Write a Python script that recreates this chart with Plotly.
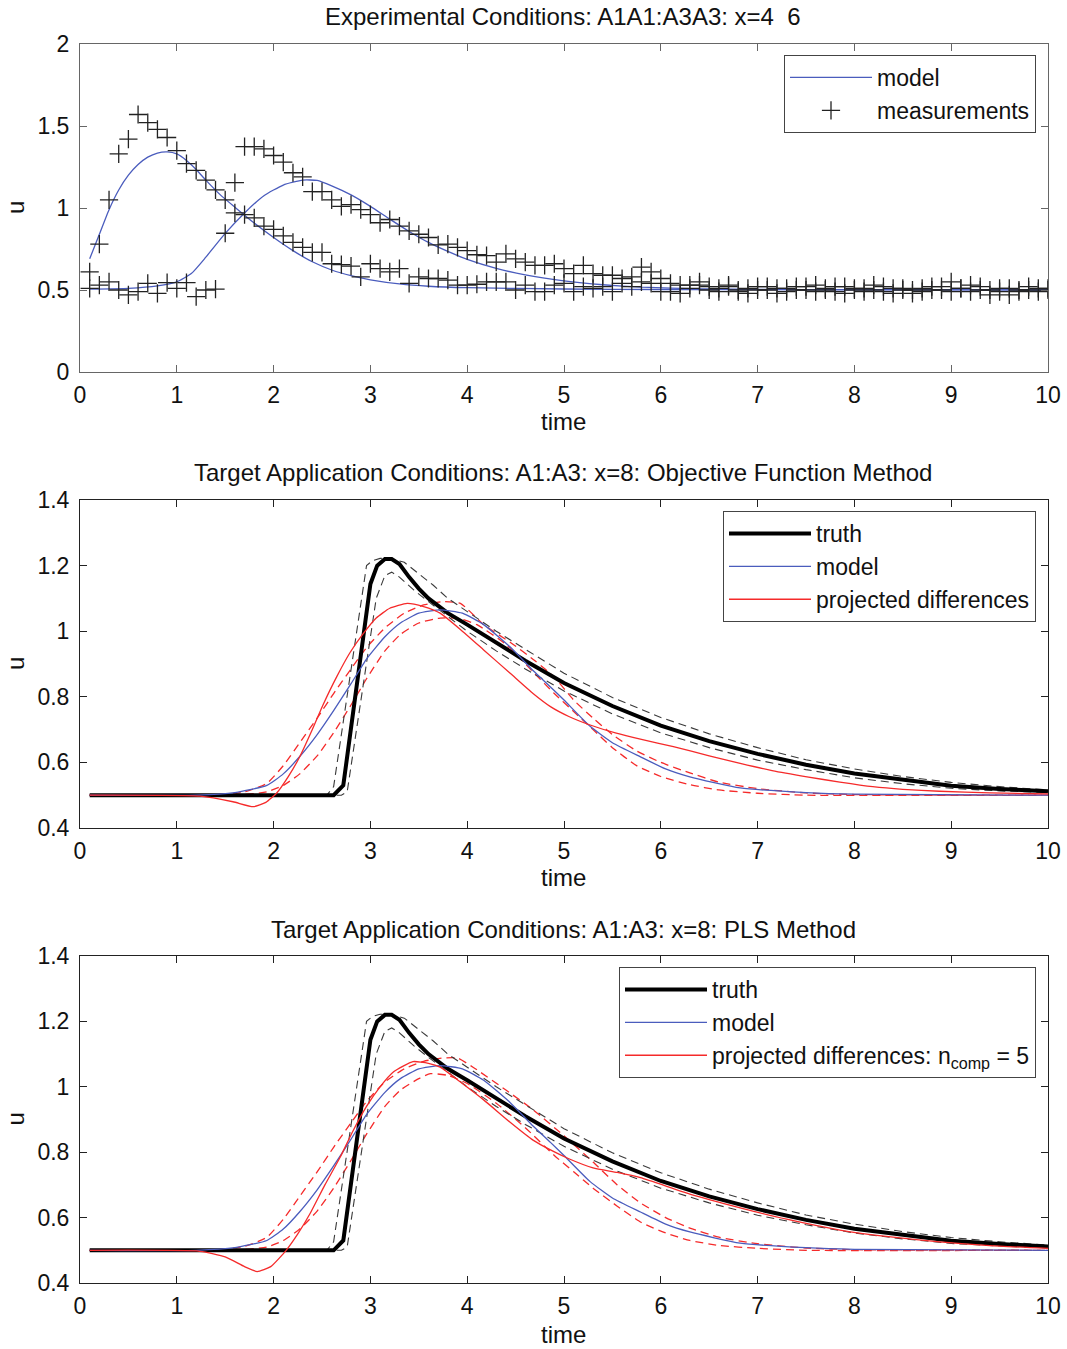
import plotly.graph_objects as go

# ---------------- data ----------------
# top panel: measurements sampled every 0.1 time units
meas_t = [round(0.1 * i, 1) for i in range(1, 101)]
meas_x4 = [0.61, 0.78, 1.05, 1.33, 1.42, 1.57, 1.52, 1.48, 1.43, 1.35,
           1.27, 1.23, 1.17, 1.11, 1.05, 0.97, 0.96, 0.94, 0.89, 0.87,
           0.83, 0.79, 0.76, 0.73, 0.73, 0.66, 0.655, 0.645, 0.58, 0.66,
           0.63, 0.61, 0.63, 0.54, 0.58, 0.57, 0.57, 0.56, 0.53, 0.53,
           0.535, 0.55, 0.55, 0.55, 0.50, 0.53, 0.49, 0.49, 0.53, 0.54,
           0.49, 0.52, 0.51, 0.52, 0.49, 0.54, 0.52, 0.55, 0.54, 0.49,
           0.49, 0.48, 0.51, 0.53, 0.50, 0.51, 0.53, 0.49, 0.51, 0.52,
           0.50, 0.48, 0.51, 0.52, 0.50, 0.53, 0.51, 0.49, 0.52, 0.50,
           0.51, 0.53, 0.49, 0.51, 0.50, 0.48, 0.51, 0.52, 0.50, 0.55,
           0.51, 0.49, 0.52, 0.50, 0.51, 0.47, 0.50, 0.52, 0.49, 0.51]
meas_x6 = [0.51, 0.53, 0.55, 0.50, 0.47, 0.49, 0.54, 0.48, 0.545, 0.51,
           0.545, 0.46, 0.50, 0.505, 0.846, 1.155, 1.374, 1.374, 1.36, 1.32,
           1.28, 1.215, 1.19, 1.10, 1.10, 1.05, 1.01, 1.02, 0.99, 0.96,
           0.91, 0.93, 0.89, 0.86, 0.84, 0.82, 0.775, 0.78, 0.76, 0.74,
           0.715, 0.71, 0.67, 0.72, 0.69, 0.67, 0.65, 0.65, 0.66, 0.63,
           0.60, 0.65, 0.60, 0.59, 0.59, 0.57, 0.58, 0.64, 0.61, 0.57,
           0.54, 0.53, 0.53, 0.55, 0.52, 0.49, 0.52, 0.50, 0.48, 0.50,
           0.52, 0.51, 0.49, 0.50, 0.52, 0.49, 0.50, 0.52, 0.48, 0.51,
           0.49, 0.50, 0.52, 0.48, 0.51, 0.50, 0.49, 0.50, 0.52, 0.49,
           0.51, 0.53, 0.50, 0.47, 0.49, 0.51, 0.49, 0.50, 0.51, 0.50]

model_x4_t = [0.1, 0.2, 0.3, 0.4, 0.5, 0.6, 0.7, 0.8, 0.9, 1.0, 1.1, 1.2, 1.3,
              1.45, 1.6, 1.8, 2.0, 2.2, 2.4, 2.6, 2.8, 3.0, 3.3, 3.6, 4.0, 5.0,
              6.0, 10.0]
model_x4_u = [0.69, 0.84, 0.99, 1.11, 1.2, 1.265, 1.31, 1.335, 1.342, 1.33,
              1.29, 1.235, 1.17, 1.08, 1.005, 0.908, 0.82, 0.74, 0.672, 0.622,
              0.587, 0.562, 0.537, 0.523, 0.514, 0.506, 0.503, 0.5]
model_x6_t = [0.1, 0.5, 0.8, 1.0, 1.15, 1.3, 1.5, 1.7, 1.9, 2.1, 2.3, 2.45,
              2.6, 2.8, 3.0, 3.2, 3.4, 3.6, 3.8, 4.0, 4.3, 4.6, 5.0, 5.4, 5.8,
              6.4, 7.5, 10.0]
model_x6_u = [0.505, 0.51, 0.525, 0.55, 0.6, 0.7, 0.845, 0.97, 1.075, 1.14,
              1.17, 1.168, 1.135, 1.08, 1.01, 0.932, 0.857, 0.79, 0.735, 0.687,
              0.632, 0.592, 0.556, 0.532, 0.517, 0.507, 0.502, 0.5]

# middle / bottom panels: truth and its dashed bounds
truth_t = [0.1, 2.62, 2.72, 2.8, 2.9, 3.0, 3.07, 3.15, 3.22, 3.3, 3.4, 3.5,
           3.6, 3.8, 4.0, 4.3, 4.6, 5.0, 5.5, 6.0, 6.5, 7.0, 7.5, 8.0, 8.5,
           9.0, 9.5, 10.0]
truth_u = [0.5, 0.5, 0.53, 0.705, 0.924, 1.144, 1.2, 1.22, 1.22, 1.205, 1.165,
           1.13, 1.10, 1.055, 1.02, 0.965, 0.91, 0.842, 0.772, 0.712, 0.665,
           0.626, 0.593, 0.566, 0.546, 0.529, 0.519, 0.512]
truth_hi_t = [0.1, 2.55, 2.62, 2.96, 3.02, 3.1, 3.2, 3.35, 3.5, 3.65, 3.8,
              4.0, 4.3, 4.6, 5.0, 5.5, 6.0, 6.5, 7.0, 7.5, 8.0, 8.5, 9.0,
              9.5, 10.0]
truth_hi_u = [0.5, 0.5, 0.526, 1.20, 1.215, 1.222, 1.222, 1.21, 1.175, 1.14,
              1.10, 1.06, 1.0, 0.945, 0.872, 0.798, 0.737, 0.687, 0.645, 0.608,
              0.58, 0.557, 0.539, 0.526, 0.516]
truth_lo_t = [0.1, 2.7, 2.76, 3.06, 3.15, 3.22, 3.3, 3.45, 3.6, 3.8, 4.0, 4.3,
              4.6, 5.0, 5.5, 6.0, 6.5, 7.0, 7.5, 8.0, 8.5, 9.0, 9.5, 10.0]
truth_lo_u = [0.5, 0.5, 0.51, 1.10, 1.17, 1.18, 1.165, 1.125, 1.09, 1.045, 1.0,
              0.94, 0.885, 0.818, 0.748, 0.69, 0.645, 0.607, 0.578, 0.553,
              0.535, 0.521, 0.513, 0.508]

model_t = [0.1, 1.2, 1.6, 1.93, 2.1, 2.27, 2.45, 2.62, 2.8, 2.96, 3.15, 3.31,
           3.5, 3.72, 3.95, 4.17, 4.45, 4.68, 4.86, 5.0, 5.27, 5.5, 5.79, 6.05,
           6.3, 6.82, 7.5, 8.0, 10.0]
model_u = [0.5, 0.5, 0.508, 0.53, 0.565, 0.618, 0.685, 0.758, 0.84, 0.915,
           0.983, 1.025, 1.055, 1.065, 1.055, 1.02, 0.95, 0.88, 0.83, 0.79,
           0.71, 0.66, 0.617, 0.58, 0.556, 0.522, 0.508, 0.503, 0.5]

# objective function method: projected differences and bounds
ofm_t = [0.1, 1.24, 1.58, 1.79, 1.92, 2.03, 2.15, 2.27, 2.4, 2.51, 2.65, 2.79,
         2.92, 3.06, 3.2, 3.38, 3.55, 3.72, 3.95, 4.17, 4.45, 4.68, 4.86, 5.05,
         5.27, 5.54, 5.8, 6.13, 6.5, 6.82, 7.15, 7.51, 7.85, 8.19, 8.5, 8.88,
         9.4, 10.0]
ofm_u = [0.5, 0.497, 0.48, 0.465, 0.478, 0.506, 0.556, 0.617, 0.70, 0.775,
         0.86, 0.935, 0.99, 1.04, 1.07, 1.085, 1.075, 1.055, 1.0, 0.943, 0.87,
         0.81, 0.77, 0.74, 0.714, 0.689, 0.67, 0.648, 0.62, 0.597, 0.575,
         0.556, 0.54, 0.526, 0.518, 0.512, 0.507, 0.504]
ofm_hi_t = [0.1, 1.3, 1.7, 1.93, 2.1, 2.27, 2.45, 2.62, 2.8, 2.96, 3.15, 3.35,
            3.55, 3.75, 3.93, 4.17, 4.45, 4.7, 4.9, 5.1, 5.3, 5.5, 5.75, 6.0,
            6.3, 6.6, 7.0, 7.5, 8.0, 10.0]
ofm_hi_u = [0.5, 0.5, 0.51, 0.536, 0.59, 0.66, 0.735, 0.81, 0.885, 0.95, 1.01,
            1.055, 1.08, 1.09, 1.085, 1.02, 0.965, 0.91, 0.86, 0.79, 0.735,
            0.685, 0.635, 0.60, 0.568, 0.54, 0.52, 0.507, 0.502, 0.5]
ofm_lo_t = [0.1, 1.6, 1.93, 2.1, 2.27, 2.45, 2.62, 2.8, 2.96, 3.15, 3.31, 3.5,
            3.72, 3.9, 4.1, 4.4, 4.7, 4.9, 5.1, 5.3, 5.5, 5.75, 6.0, 6.3, 6.6,
            7.0, 7.5, 10.0]
ofm_lo_u = [0.5, 0.5, 0.51, 0.53, 0.565, 0.62, 0.69, 0.775, 0.855, 0.94, 0.99,
            1.025, 1.04, 1.04, 1.02, 0.96, 0.87, 0.81, 0.755, 0.70, 0.645,
            0.59, 0.557, 0.532, 0.516, 0.506, 0.5, 0.5]

# PLS method: projected differences and bounds
pls_t = [0.1, 1.24, 1.5, 1.7, 1.83, 1.97, 2.13, 2.25, 2.38, 2.53, 2.69, 2.82,
         2.96, 3.1, 3.24, 3.44, 3.6, 3.72, 3.95, 4.17, 4.45, 4.68, 4.86, 5.05,
         5.3, 5.55, 5.79, 6.3, 6.82, 7.3, 7.85, 8.4, 8.88, 9.4, 10.0]
pls_u = [0.5, 0.497, 0.48, 0.45, 0.435, 0.45, 0.5, 0.55, 0.614, 0.70, 0.786,
         0.865, 0.94, 1.0, 1.046, 1.077, 1.072, 1.06, 1.01, 0.96, 0.89, 0.837,
         0.807, 0.78, 0.752, 0.738, 0.722, 0.672, 0.63, 0.595, 0.562, 0.54,
         0.526, 0.514, 0.506]
pls_hi_t = [0.1, 1.3, 1.7, 1.93, 2.1, 2.27, 2.45, 2.62, 2.8, 2.96, 3.15, 3.35,
            3.55, 3.75, 3.9, 4.06, 4.4, 4.68, 5.0, 5.3, 5.55, 5.79, 6.05, 6.3,
            6.6, 7.0, 7.5, 8.0, 10.0]
pls_hi_u = [0.5, 0.5, 0.512, 0.54, 0.595, 0.665, 0.74, 0.815, 0.89, 0.955,
            1.015, 1.055, 1.078, 1.088, 1.088, 1.06, 0.99, 0.93, 0.85, 0.77,
            0.70, 0.645, 0.60, 0.568, 0.54, 0.52, 0.507, 0.502, 0.5]
pls_lo_t = [0.1, 1.6, 1.93, 2.1, 2.27, 2.45, 2.62, 2.8, 2.96, 3.15, 3.31, 3.5,
            3.62, 3.8, 4.0, 4.3, 4.6, 4.9, 5.1, 5.3, 5.55, 5.8, 6.05, 6.3, 6.6,
            7.0, 7.5, 10.0]
pls_lo_u = [0.5, 0.5, 0.51, 0.53, 0.565, 0.62, 0.69, 0.775, 0.855, 0.94, 0.99,
            1.025, 1.04, 1.035, 1.01, 0.95, 0.875, 0.79, 0.74, 0.69, 0.635,
            0.585, 0.553, 0.53, 0.515, 0.506, 0.5, 0.5]

titles = ["Experimental Conditions: A1A1:A3A3: x=4  6",
          "Target Application Conditions: A1:A3: x=8: Objective Function Method",
          "Target Application Conditions: A1:A3: x=8: PLS Method"]

# ---------------- style ----------------
W, H = 1067, 1349
ML, MR, MT, MB = 80, 19, 44, 66
BLUE = "#4a5cbd"
RED = "#f52a2a"
FONT = "Liberation Sans, Arial, Helvetica, sans-serif"
TXT = "#111111"
FS = 24


def py2paper(py):
    return (H - MB - py) / (H - MT - MB)


def px2paper(px):
    return (px - ML) / (W - ML - MR)


panels_px = [(44, 372), (500, 828), (956, 1283)]

fig = go.Figure()

# --- top panel ---
fig.add_trace(go.Scatter(x=model_x4_t, y=model_x4_u, mode="lines", name="model",
                         line=dict(color=BLUE, width=1.3, shape="spline", smoothing=0.5),
                         xaxis="x", yaxis="y", legend="legend"))
fig.add_trace(go.Scatter(x=model_x6_t, y=model_x6_u, mode="lines", showlegend=False,
                         line=dict(color=BLUE, width=1.3, shape="spline", smoothing=0.5),
                         xaxis="x", yaxis="y"))
fig.add_trace(go.Scatter(x=meas_t, y=meas_x4, mode="markers", name="measurements",
                         marker=dict(symbol="cross-thin", size=13,
                                     line=dict(color="#222222", width=1.3)),
                         xaxis="x", yaxis="y", legend="legend"))
fig.add_trace(go.Scatter(x=meas_t, y=meas_x6, mode="markers", showlegend=False,
                         marker=dict(symbol="cross-thin", size=13,
                                     line=dict(color="#222222", width=1.3)),
                         xaxis="x", yaxis="y"))


def add_target(xa, ya, lg, pd_t, pd_u, hi_t, hi_u, lo_t, lo_u, pd_name):
    dash = "8px,5px"
    for tt, uu in ((hi_t, hi_u), (lo_t, lo_u)):
        fig.add_trace(go.Scatter(x=tt, y=uu, mode="lines", showlegend=False,
                                 line=dict(color=RED, width=1.3, dash=dash,
                                           shape="spline", smoothing=0.5),
                                 xaxis=xa, yaxis=ya))
    for tt, uu in ((truth_hi_t, truth_hi_u), (truth_lo_t, truth_lo_u)):
        fig.add_trace(go.Scatter(x=tt, y=uu, mode="lines", showlegend=False,
                                 line=dict(color="#3a3a3a", width=1.1, dash=dash),
                                 xaxis=xa, yaxis=ya))
    fig.add_trace(go.Scatter(x=truth_t, y=truth_u, mode="lines", name="truth",
                             line=dict(color="black", width=4),
                             xaxis=xa, yaxis=ya, legend=lg, legendrank=1))
    fig.add_trace(go.Scatter(x=model_t, y=model_u, mode="lines", name="model",
                             line=dict(color=BLUE, width=1.3, shape="spline", smoothing=0.5),
                             xaxis=xa, yaxis=ya, legend=lg, legendrank=2))
    fig.add_trace(go.Scatter(x=pd_t, y=pd_u, mode="lines", name=pd_name,
                             line=dict(color=RED, width=1.3, shape="spline", smoothing=0.5),
                             xaxis=xa, yaxis=ya, legend=lg, legendrank=3))


add_target("x2", "y2", "legend2", ofm_t, ofm_u, ofm_hi_t, ofm_hi_u, ofm_lo_t, ofm_lo_u,
           "projected differences")
add_target("x3", "y3", "legend3", pls_t, pls_u, pls_hi_t, pls_hi_u, pls_lo_t, pls_lo_u,
           "projected differences: n<sub>comp</sub> = 5")

axis_common = dict(showgrid=False, zeroline=False, showline=True, mirror="ticks",
                   ticks="inside", ticklen=7, tickwidth=1, automargin=False,
                   tickfont=dict(family=FONT, size=FS - 1, color=TXT))

yranges = [[0, 2], [0.4, 1.4], [0.4, 1.4]]
ydticks = [0.5, 0.2, 0.2]
linecols = ["#666666", "#222222", "#222222"]
layout_axes = {}
for i, (top, bot) in enumerate(panels_px):
    sfx = "" if i == 0 else str(i + 1)
    dom = [py2paper(bot), py2paper(top)]
    layout_axes["xaxis" + sfx] = dict(axis_common, range=[0, 10], dtick=1, tick0=0,
                                      domain=[0, 1], anchor="y" + sfx,
                                      linecolor=linecols[i], tickcolor=linecols[i],
                                      ticklabelstandoff=2)
    layout_axes["yaxis" + sfx] = dict(axis_common, range=yranges[i], dtick=ydticks[i],
                                      tick0=0, domain=dom, anchor="x" + sfx,
                                      linecolor=linecols[i], tickcolor=linecols[i],
                                      ticklabelstandoff=5)

annotations = []
title_py = [17, 473, 929]
time_py = [422, 878, 1334]
for i, (top, bot) in enumerate(panels_px):
    annotations.append(dict(text=titles[i], xref="paper", yref="paper",
                            x=px2paper(563), y=py2paper(title_py[i]),
                            xanchor="center", yanchor="middle", showarrow=False,
                            font=dict(family=FONT, size=FS, color=TXT)))
    annotations.append(dict(text="time", xref="paper", yref="paper",
                            x=px2paper(563), y=py2paper(time_py[i]),
                            xanchor="center", yanchor="middle", showarrow=False,
                            font=dict(family=FONT, size=FS, color=TXT)))
    annotations.append(dict(text="u", xref="paper", yref="paper", textangle=-90,
                            x=px2paper(15), y=py2paper((top + bot) / 2),
                            xanchor="center", yanchor="middle", showarrow=False,
                            font=dict(family=FONT, size=FS, color=TXT)))

legend_common = dict(bgcolor="white", bordercolor="#444444", borderwidth=1,
                     font=dict(family=FONT, size=23, color=TXT), itemwidth=82,
                     xanchor="right", yanchor="top", tracegroupgap=0,
                     itemclick=False, itemdoubleclick=False)

fig.update_layout(
    width=W, height=H,
    margin=dict(l=ML, r=MR, t=MT, b=MB, autoexpand=False),
    paper_bgcolor="white", plot_bgcolor="white",
    font=dict(family=FONT, size=FS, color=TXT),
    annotations=annotations,
    legend=dict(legend_common, x=px2paper(1036), y=py2paper(55)),
    legend2=dict(legend_common, x=px2paper(1036), y=py2paper(511)),
    legend3=dict(legend_common, x=px2paper(1036), y=py2paper(967)),
    **layout_axes,
)

fig.write_html("out.html", config={"displayModeBar": False},
               post_script="document.body.style.margin='0';document.body.style.overflow='hidden';")
